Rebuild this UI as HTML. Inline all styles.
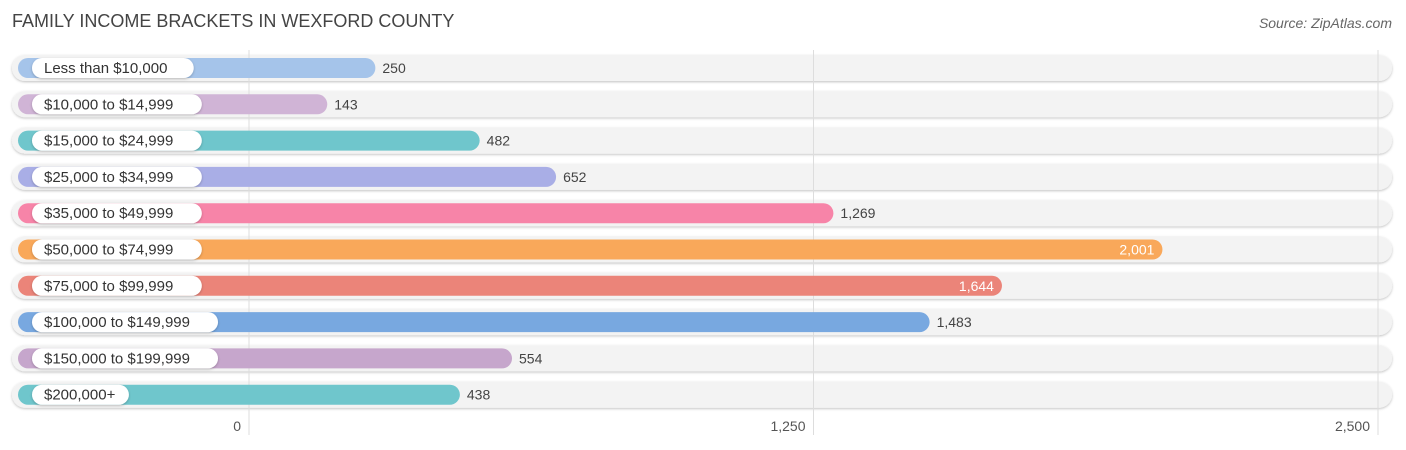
<!DOCTYPE html>
<html><head><meta charset="utf-8"><style>
body{margin:0;width:1406px;height:450px;background:#fff;font-family:"Liberation Sans",sans-serif;overflow:hidden;position:relative}
.t{position:absolute;left:12px;top:11px;font-size:18px;color:#444}
.s{position:absolute;right:14px;top:15px;font-size:14px;color:#666;font-style:italic}
</style></head><body>
<div class="t">FAMILY INCOME BRACKETS IN WEXFORD COUNTY</div>
<div class="s">Source: ZipAtlas.com</div>
<svg id="c" width="1406" height="450" style="position:absolute;left:0;top:0"></svg>
<script>
const categories=["Less than $10,000","$10,000 to $14,999","$15,000 to $24,999","$25,000 to $34,999","$35,000 to $49,999","$50,000 to $74,999","$75,000 to $99,999","$100,000 to $149,999","$150,000 to $199,999","$200,000+"];
const values=[250,143,482,652,1269,2001,1644,1483,554,438];
const colors=["#a5c4ea","#d0b4d6","#6fc6cc","#a9aee6","#f784a8","#f9a85a","#eb8479","#78a8e0","#c6a6cc","#6fc6cc"];
const ticks=[0,1250,2500];
const tickLabels=["0","1,250","2,500"];
const NS="http://www.w3.org/2000/svg";
const svg=document.getElementById('c');
const gx=v=>249+v*0.4516;
const bx=v=>263+v*0.4495;
const ry=i=>68+i*36.3;
function mk(t,a){const e=document.createElementNS(NS,t);for(const k in a)e.setAttribute(k,a[k]);svg.appendChild(e);return e;}
const defs=mk('defs',{});
defs.innerHTML='<filter id="sh" x="-5%" y="-50%" width="110%" height="200%"><feDropShadow dx="0" dy="1" stdDeviation="1.2" flood-opacity="0.25"/></filter>';
categories.forEach((c,i)=>{
  const r=mk('rect',{x:12,y:ry(i)-13,width:1380,height:26,rx:13,fill:'#f3f3f3',filter:'url(#sh)'});
  
  
});
ticks.forEach((t,i)=>{
  const l=mk('line',{x1:gx(t),x2:gx(t),y1:50,y2:435,stroke:'#ddd','stroke-width':1});
  
  
  const tx=mk('text',{x:gx(t)-8,y:431,'text-anchor':'end','font-size':14,fill:'#555'});
  tx.textContent=tickLabels[i];
  
  
});
categories.forEach((c,i)=>{
  const y=ry(i),end=bx(values[i]);
  const b=mk('rect',{x:18,y:y-10,width:end-18,height:20,rx:10,fill:colors[i]});
  
  
  const lw=c.length*8.1+24;
  const p=mk('rect',{x:32,y:y-10,width:lw,height:20,rx:10,fill:'#fff',filter:'url(#sh)'});
  
  
  const lt=mk('text',{x:44,y:y+5,'font-size':15,fill:'#333'});
  lt.textContent=c;
  
  
  const inside=values[i]>1600;
  const vt=mk('text',{x:inside?end-8:end+7,y:y+5,'font-size':14,fill:inside?'#fff':'#444','text-anchor':inside?'end':'start'});
  vt.textContent=values[i].toLocaleString('en-US');
  
  
});
</script>
</body></html>
